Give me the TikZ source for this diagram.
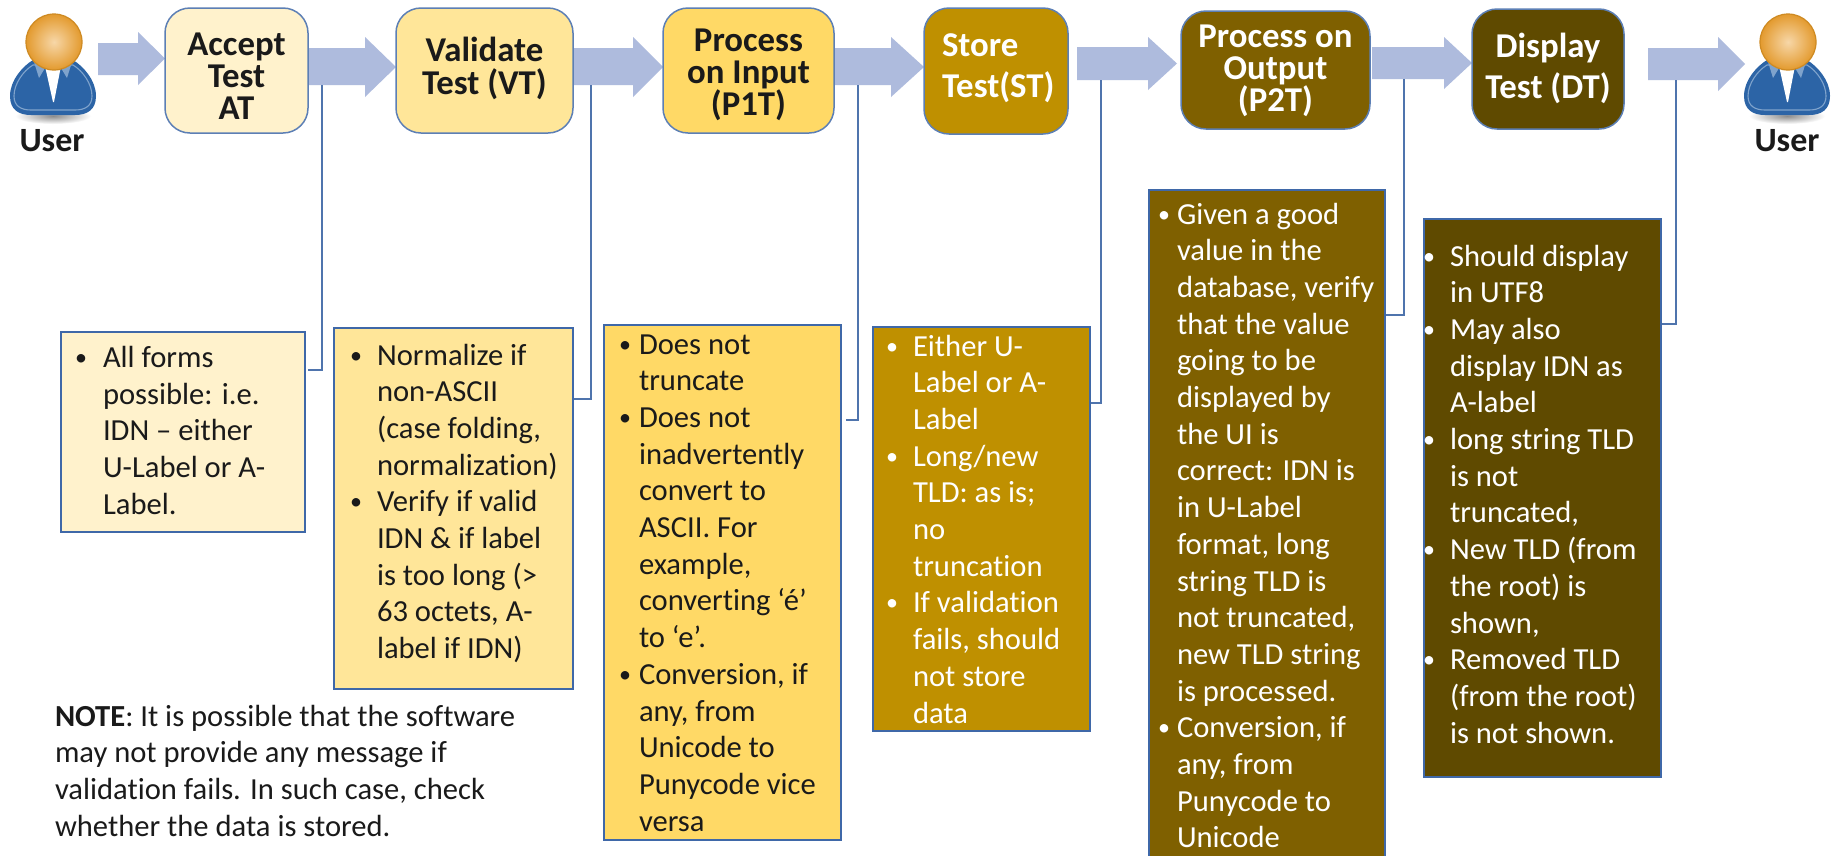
\documentclass[tikz,border=0pt]{standalone}
\usepackage{fontspec}
\setmainfont{Carlito}[Ligatures=NoCommon]
\usetikzlibrary{calc}
\definecolor{cA}{HTML}{FFF2CC}
\definecolor{cB}{HTML}{FFE699}
\definecolor{cC}{HTML}{FFD966}
\definecolor{cD}{HTML}{BF9000}
\definecolor{cE}{HTML}{7F6000}
\definecolor{cF}{HTML}{5F4A00}
\definecolor{edge}{HTML}{3F68A8}
\definecolor{conn}{HTML}{4F74AD}
\definecolor{flow}{HTML}{AEBBDD}
\definecolor{ink}{HTML}{1A1A1A}
\definecolor{paper}{HTML}{FFFFFF}
\definecolor{userblue}{HTML}{2C64A6}
\definecolor{userrim}{HTML}{7FA3CC}
\definecolor{userhi}{HTML}{F7D7A8}
\definecolor{userorange}{HTML}{E39A2E}
\definecolor{userline}{HTML}{CE8A22}
\newlength\bulx \newlength\txtx
\newcommand\BL[1]{\hbox to\hsize{\rlap{\hspace*{\bulx}\makebox[0pt]{\raisebox{2pt}{\fontsize{24}{24}\selectfont •}}}\hspace*{\txtx}#1\hss}}
\newcommand\LN[1]{\hbox to\hsize{\hspace*{\txtx}#1\hss}}
\newcommand\CT[1]{\hbox to\hsize{\hss #1\hss}}
\newcommand\listfont{\fontsize{30.6}{36.7}\selectfont}
% name, x0, y0, x1, y1, style, font, first baseline offset, body
\newcommand\boxnode[9]{%
  \pgfmathsetmacro\bw{#4-#2}\pgfmathsetmacro\bh{#5-#3}%
  \node[anchor=north west,inner sep=0pt,outer sep=0pt,minimum width=\bw pt,minimum height=\bh pt,#6] (#1) at (#2,#3)
  {\vbox to \bh pt{\hsize=\bw pt #7\hbox{\rule{0pt}{#8pt}}\vskip-\baselineskip #9\vss}};}
\newcommand\flowarrow[7]{% x0, xhead, xtip, shaft top, shaft bottom, head top, head bottom
  \pgfmathsetmacro\tipy{(#6+#7)/2}%
  \fill[flow] (#1,#4) -- (#2,#4) -- (#2,#6) -- (#3,\tipy) -- (#2,#7) -- (#2,#5) -- (#1,#5) -- cycle;}
\newcommand\usericon[1]{%
  \begin{scope}[shift={(#1,0)}]
    \shade[inner color=black!45,outer color=white,draw=none] (0,116) ellipse [x radius=38,y radius=8];
    \fill[userblue] (-43,96) .. controls (-43,80) and (-30,66) .. (-20,60) -- (20,60) .. controls (30,66) and (43,80) .. (43,96) .. controls (43,110) and (34,115) .. (22,115) -- (-22,115) .. controls (-34,115) and (-43,110) .. (-43,96) -- cycle;
    \draw[userrim,line width=1.1pt] (-39,96) .. controls (-39,84) and (-30,71) .. (-20,65) -- (20,65) .. controls (30,71) and (39,84) .. (39,96) .. controls (39,106) and (32,110) .. (22,110) -- (-22,110) .. controls (-32,110) and (-39,106) .. (-39,96) -- cycle;
    \fill[white] (-8,66) -- (8,66) -- (1,102) -- (0,102) -- cycle;
    \fill[userrim] (-19,62) -- (-8,68) -- (-14,78) -- cycle;
    \fill[userrim] (19,62) -- (8,68) -- (14,78) -- cycle;
    \shade[inner color=userhi,outer color=userorange,draw=userline,line width=1.2pt] (1,42) circle [radius=28];
  \end{scope}}
\tikzset{
  stepbox/.style={draw=edge!85!white,line width=1.5pt,rounded corners=25pt},
  listbox/.style={draw=edge,line width=2.4pt},
  plaintext/.style={text=ink},
  connector/.style={draw=conn,line width=2.8pt,line join=miter}
}
\newcommand\headfont[1]{\fontsize{34.8}{#1}\selectfont\bfseries}
\begin{document}
\begin{tikzpicture}[x=1pt,y=-1pt]
\useasboundingbox (0,0) rectangle (1841,855);
\fill[paper] (0,0) rectangle (1841,855);

% block arrows
\flowarrow{98}{138}{165}{43}{75}{32}{85}
\flowarrow{308}{365}{396}{48}{85}{37}{97}
\flowarrow{573}{633}{663}{48}{85}{37}{97}
\flowarrow{834}{891}{924}{48}{85}{37}{97}
\flowarrow{1077}{1148}{1177}{47}{80}{37}{90}
\flowarrow{1372}{1444}{1472}{47}{79}{37}{89}
\flowarrow{1648}{1718}{1745}{48}{80}{37}{91}

% connector free ends
\coordinate (c1) at (322,85);
\coordinate (c2) at (591,85);
\coordinate (c3) at (858,85);
\coordinate (c4) at (1101,80);
\coordinate (c5) at (1404,79);
\coordinate (c6) at (1676,80);
\coordinate (j1) at (308,370);
\coordinate (j2) at (573,399);
\coordinate (j3) at (846,420);
\coordinate (j4) at (1090,403);
\coordinate (j5) at (1385,315);
\coordinate (j6) at (1661,324);
\draw[connector] (c1) |- (j1);
\draw[connector] (c2) |- (j2);
\draw[connector] (c3) |- (j3);
\draw[connector] (c4) |- (j4);
\draw[connector] (c5) |- (j5);
\draw[connector] (c6) |- (j6);

% step boxes
\boxnode{at}{165}{8}{308}{133}{stepbox,fill=cA,text=ink}{\headfont{32}}{47}{\CT{Accept}\CT{Test}\CT{AT}}
\boxnode{vt}{396}{8}{573}{133}{stepbox,fill=cB,text=ink}{\headfont{33}}{53}{\CT{Validate}\CT{Test (VT)}}
\boxnode{pit}{663}{8}{834}{133}{stepbox,fill=cC,text=ink}{\headfont{32}}{43}{\CT{Process}\CT{on Input}\CT{(P1T)}}
\boxnode{st}{924}{8}{1068}{134}{stepbox,fill=cD,text=white}{\headfont{41.5}\setlength\txtx{18pt}}{48}{\LN{Store}\LN{Test(ST)}}
\boxnode{pot}{1181}{11}{1370}{129}{stepbox,fill=cE,text=white}{\headfont{32}}{36}{\CT{Process on}\CT{Output}\CT{(P2T)}}
\boxnode{dt}{1472}{9}{1624}{129}{stepbox,fill=cF,text=white}{\headfont{41.5}}{48}{\CT{Display}\CT{Test (DT)}}

% detail boxes
\boxnode{d1}{61}{332}{305}{532}{listbox,fill=cA,text=ink}{\listfont\setlength\bulx{20pt}\setlength\txtx{42pt}}{35.5}{%
 \BL{All forms}\LN{possible: i.e.}\LN{IDN – either}\LN{U-Label or A-}\LN{Label.}}
\boxnode{d2}{334}{328}{573}{689}{listbox,fill=cB,text=ink}{\listfont\setlength\bulx{22pt}\setlength\txtx{43pt}}{37}{%
 \BL{Normalize if}\LN{non-ASCII}\LN{(case folding,}\LN{normalization)}\BL{Verify if valid}\LN{IDN \& if label}\LN{is too long (>}\LN{63 octets, A-}\LN{label if IDN)}}
\boxnode{d3}{604}{325}{841}{840}{listbox,fill=cC,text=ink}{\listfont\setlength\bulx{21pt}\setlength\txtx{35pt}}{29}{%
 \BL{Does not}\LN{truncate}\BL{Does not}\LN{inadvertently}\LN{convert to}\LN{ASCII. For}\LN{example,}\LN{converting ‘é’}\LN{to ‘e’.}\BL{Conversion, if}\LN{any, from}\LN{Unicode to}\LN{Punycode vice}\LN{versa}}
\boxnode{d4}{873}{327}{1090}{731}{listbox,fill=cD,text=white}{\listfont\setlength\bulx{19pt}\setlength\txtx{40pt}}{29}{%
 \BL{Either U-}\LN{Label or A-}\LN{Label}\BL{Long/new}\LN{TLD: as is;}\LN{no}\LN{truncation}\BL{If validation}\LN{fails, should}\LN{not store}\LN{data}}
\boxnode{d5}{1149}{190}{1385}{860}{listbox,fill=cE,text=white}{\listfont\setlength\bulx{15pt}\setlength\txtx{28pt}}{34}{%
 \BL{Given a good}\LN{value in the}\LN{database, verify}\LN{that the value}\LN{going to be}\LN{displayed by}\LN{the UI is}\LN{correct: IDN is}\LN{in U-Label}\LN{format, long}\LN{string TLD is}\LN{not truncated,}\LN{new TLD string}\LN{is processed.}\BL{Conversion, if}\LN{any, from}\LN{Punycode to}\LN{Unicode}}
\boxnode{d6}{1424}{219}{1661}{777}{listbox,fill=cF,text=white}{\listfont\setlength\bulx{5pt}\setlength\txtx{26pt}}{47}{%
 \BL{Should display}\LN{in UTF8}\BL{May also}\LN{display IDN as}\LN{A-label}\BL{long string TLD}\LN{is not}\LN{truncated,}\BL{New TLD (from}\LN{the root) is}\LN{shown,}\BL{Removed TLD}\LN{(from the root)}\LN{is not shown.}}

% note
\boxnode{note}{55}{695}{560}{850}{plaintext}{\listfont\setlength\txtx{0pt}}{31}{%
 \LN{\textbf{NOTE}: It is possible that the software}\LN{may not provide any message if}\LN{validation fails. In such case, check}\LN{whether the data is stored.}}

% user icons
\usericon{53}
\usericon{1787}
\node[text=ink,font=\fontsize{34}{36}\selectfont\bfseries,anchor=base,inner sep=0pt] (u1) at (52,151) {User};
\node[text=ink,font=\fontsize{34}{36}\selectfont\bfseries,anchor=base,inner sep=0pt] (u2) at (1787,151) {User};
\end{tikzpicture}
\end{document}
